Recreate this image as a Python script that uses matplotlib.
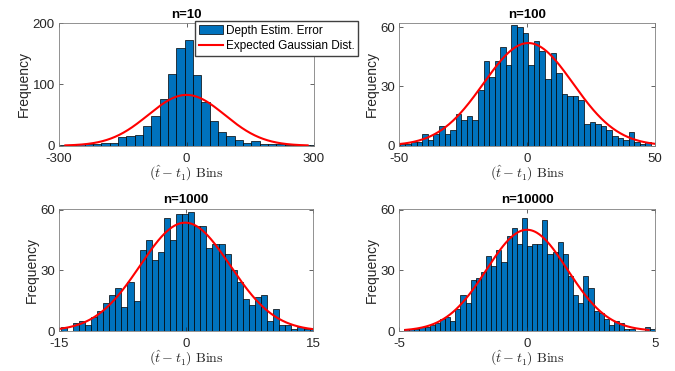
import numpy as np
import matplotlib
matplotlib.use('Agg')
import matplotlib.pyplot as plt

plt.rcParams['font.family'] = ['Liberation Sans', 'DejaVu Sans']
plt.rcParams['mathtext.fontset'] = 'cm'
plt.rcParams['axes.unicode_minus'] = False

# histogram counts, per panel
titles = ['n=10', 'n=100', 'n=1000', 'n=10000']

counts_10 = [1, 1, 2, 2, 3, 5, 5, 14, 16, 17, 32, 49, 77, 117, 159, 173,
             116, 71, 41, 22, 16, 10, 5, 7, 3, 2, 2, 1, 1, 1, 1]
counts_100 = [1, 1, 2, 2, 6, 3, 6, 10, 6, 8, 16, 13, 15, 13, 28, 43, 35, 43, 50, 41, 61, 60,
              57, 41, 53, 48, 34, 47, 37, 26, 25, 25, 23, 11, 12, 11, 10, 8, 5, 4, 3, 7, 2, 1, 2]
counts_1000 = [2, 0, 4, 5, 3, 7, 10, 14, 18, 21, 12, 24, 15, 40, 45, 35, 39, 56, 45, 58, 58,
               59, 52, 52, 41, 43, 43, 38, 30, 24, 16, 13, 17, 18, 5, 11, 3, 3, 1, 2, 1, 1]
counts_10000 = [1, 1, 1, 2, 2, 3, 4, 6, 7, 5, 11, 18, 14, 25, 26, 29, 37, 32, 40, 34, 47, 51, 43, 56,
                42, 43, 43, 55, 38, 39, 44, 38, 27, 18, 14, 27, 21, 10, 9, 6, 3, 5, 4, 1, 1, 0, 0, 2, 1]

bin_start = [-298.3, -49.66, -14.8, -4.8]
bin_width = [19.6, 2.18, 0.717, 0.2]
counts = [counts_10, counts_100, counts_1000, counts_10000]

# expected gaussian: mean, sigma, peak height, x-span
gauss_mu = [0, 0.5, -0.1, 0]
gauss_sigma = [90, 17.5, 5.3, 1.58]
gauss_peak = [83, 52, 53.5, 50]
gauss_span = [(-285, 285), (-50, 50), (-15, 15), (-4.75, 4.75)]

xlims = [300, 50, 15, 5]
ylims = [200, 62, 60.5, 60.5]
yticks = [[0, 100, 200], [0, 30, 60], [0, 30, 60], [0, 30, 60]]

W, H = 675, 371
fig = plt.figure(figsize=(W / 100, H / 100), dpi=100)
boxes = [(59, 23.3, 314, 145.7), (399, 23.3, 655, 145.7),
         (59, 208.5, 313, 331), (399, 208.5, 655, 331)]

for i in range(4):
    l, t, r, b = boxes[i]
    ax = fig.add_axes([l / W, 1 - b / H, (r - l) / W, (b - t) / H])
    edges = bin_start[i] + bin_width[i] * np.arange(len(counts[i]) + 1)
    h = ax.bar(edges[:-1], counts[i], width=bin_width[i], align='edge',
               color='#0072BD', edgecolor='black', linewidth=0.5,
               label='Depth Estim. Error')
    x = np.linspace(gauss_span[i][0], gauss_span[i][1], 400)
    y = gauss_peak[i] * np.exp(-(x - gauss_mu[i]) ** 2 / (2 * gauss_sigma[i] ** 2))
    ln, = ax.plot(x, y, color='#FF0000', lw=1.5, label='Expected Gaussian Dist.')

    ax.set_xlim(-xlims[i], xlims[i])
    ax.set_ylim(0, ylims[i])
    ax.set_xticks([-xlims[i], 0, xlims[i]])
    ax.set_yticks(yticks[i])
    ax.tick_params(direction='in', length=3, width=0.5, labelsize=9.5,
                   colors='#262626', top=True, right=True)
    ax.tick_params(axis='x', pad=5)
    ax.tick_params(axis='y', pad=3)
    for s in ax.spines.values():
        s.set_color('#808080')
        s.set_linewidth(0.6)
    ax.set_title(titles[i], fontsize=9.5, fontweight='bold', pad=4)
    ax.set_ylabel('Frequency', fontsize=10, color='#262626', labelpad=1)
    ax.set_xlabel(r'$(\hat{t}-t_1)\ \mathrm{Bins}$', fontsize=10, color='#262626', labelpad=-1)

    if i == 0:
        fig.legend(handles=[h, ln], loc='upper left',
                   bbox_to_anchor=(195 / W, 1 - 21 / H), bbox_transform=fig.transFigure,
                   fontsize=8.5, fancybox=False, framealpha=1, edgecolor='#404040',
                   borderpad=0.3, handlelength=2.1, handletextpad=0.2,
                   labelspacing=0.3, borderaxespad=0)

fig.savefig('out.png', dpi=100)
